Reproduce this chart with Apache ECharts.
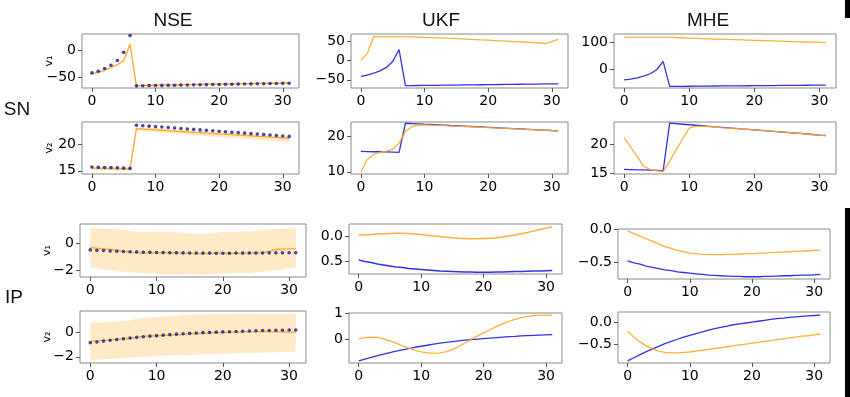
<!DOCTYPE html>
<html>
<head>
<meta charset="utf-8">
<script src="https://cdn.jsdelivr.net/npm/echarts@6/dist/echarts.min.js"></script>
<style>
  html, body { margin: 0; background: #fff; }
  #main { width: 850px; height: 397px; }
</style>
</head>
<body>
<div id="main"></div>
<script>
// time steps 0..31
var steps = [0,1,2,3,4,5,6,7,8,9,10,11,12,13,14,15,16,17,18,19,20,21,22,23,24,25,26,27,28,29,30,31];
var xTicks = [0, 10, 20, 30];

// ---- SN (spiking neuron), true states (blue) ----
var snV1True = [-41,-38,-33,-27,-18,-3,28,-65,-64.8,-64.6,-64.4,-64.2,-64,-63.8,-63.6,-63.4,-63.2,-63,-62.8,-62.6,-62.4,-62.2,-62,-61.8,-61.6,-61.4,-61.2,-61,-60.8,-60.6,-60.4,-60.2];
var snV2True = [15.7,15.65,15.6,15.6,15.55,15.5,15.45,23.55,23.46,23.37,23.28,23.2,23.11,23.02,22.93,22.85,22.76,22.67,22.58,22.5,22.41,22.32,22.23,22.15,22.06,21.97,21.88,21.8,21.71,21.62,21.53,21.45];

// NSE estimates + band
var nseSnV1 = [-43,-40,-36,-31,-26,-18,12,-65,-64.2,-64,-63.8,-63.6,-63.4,-63.2,-63,-62.8,-62.6,-62.4,-62.2,-62,-61.8,-61.6,-61.4,-61.2,-61,-60.8,-60.6,-60.4,-60.2,-60,-59.8,-59.6];
var nseSnV1Lo = [-45,-42,-38,-33,-28,-20,9,-67,-66,-65.8,-65.6,-65.4,-65.2,-65,-64.8,-64.6,-64.4,-64.2,-64,-63.8,-63.6,-63.4,-63.2,-63,-62.8,-62.6,-62.4,-62.2,-62,-61.8,-61.6,-61.4];
var nseSnV1Hi = [-41,-38,-34,-29,-24,-16,15,-63,-62.4,-62.2,-62,-61.8,-61.6,-61.4,-61.2,-61,-60.8,-60.6,-60.4,-60.2,-60,-59.8,-59.6,-59.4,-59.2,-59,-58.8,-58.6,-58.4,-58.2,-58,-57.8];
var nseSnV2 = [15.5,15.45,15.45,15.4,15.4,15.35,15.35,22.9,22.82,22.75,22.67,22.6,22.52,22.45,22.37,22.3,22.22,22.15,22.07,22,21.92,21.85,21.77,21.7,21.62,21.55,21.47,21.4,21.32,21.25,21.17,21.1];
var nseSnV2Lo = [15.1,15.1,15.05,15.05,15,15,15,22.5,22.4,22.3,22.2,22.1,22,21.95,21.85,21.75,21.65,21.6,21.5,21.4,21.3,21.25,21.15,21.05,20.95,20.9,20.8,20.75,20.65,20.6,20.5,20.45];
var nseSnV2Hi = [15.9,15.85,15.85,15.8,15.8,15.75,15.75,23.2,23.12,23.05,22.97,22.9,22.82,22.75,22.67,22.6,22.52,22.45,22.37,22.3,22.22,22.15,22.07,22,21.92,21.85,21.77,21.7,21.62,21.55,21.47,21.4];

// UKF estimates
var ukfSnV1 = [0,18,61,61,61,61,61,61,60.5,60,59.4,58.8,58.2,57.5,56.8,56,55.2,54.4,53.6,52.8,52,51.2,50.4,49.5,48.6,47.7,46.8,45.8,44.8,43.5,48.5,54];
var ukfSnV2 = [9.9,13.4,14.9,15.4,15.8,16.4,18,21.2,22.6,23,23.1,23.05,22.98,22.9,22.82,22.74,22.66,22.58,22.5,22.42,22.34,22.26,22.18,22.1,22.02,21.94,21.86,21.78,21.7,21.6,21.5,21.4];

// MHE estimates
var mheSnV1 = [117.5,118,118,118,118,118,118,118,117,116,115,114,113,112.2,111.4,110.6,109.8,109,108.2,107.4,106.6,105.8,105,104.2,103.4,102.6,101.8,101,100.2,99.4,98.6,97.8];
var mheSnV2 = [21.1,19.5,17.9,16.2,15.7,15.45,15.3,17.1,19,20.9,22.7,23,23,22.95,22.9,22.8,22.72,22.64,22.56,22.48,22.4,22.32,22.23,22.15,22.06,21.97,21.88,21.8,21.71,21.62,21.53,21.45];

// ---- IP, true states (blue) ----
var ipV1True = [-0.48,-0.51,-0.53,-0.56,-0.58,-0.6,-0.62,-0.63,-0.65,-0.66,-0.67,-0.68,-0.69,-0.7,-0.705,-0.71,-0.715,-0.72,-0.72,-0.725,-0.725,-0.725,-0.72,-0.72,-0.715,-0.71,-0.71,-0.705,-0.7,-0.7,-0.695,-0.69];
var ipV2True = [-0.87,-0.8,-0.73,-0.66,-0.6,-0.54,-0.48,-0.43,-0.38,-0.33,-0.29,-0.25,-0.21,-0.17,-0.14,-0.11,-0.08,-0.05,-0.03,-0.01,0.01,0.03,0.05,0.07,0.09,0.1,0.12,0.13,0.14,0.15,0.16,0.17];

var nseIpV1 = [-0.3,-0.35,-0.4,-0.45,-0.5,-0.6,-0.65,-0.7,-0.72,-0.72,-0.7,-0.7,-0.68,-0.7,-0.72,-0.74,-0.76,-0.76,-0.74,-0.72,-0.72,-0.73,-0.74,-0.74,-0.72,-0.7,-0.68,-0.6,-0.45,-0.42,-0.4,-0.36];
var nseIpV1Lo = [-1.75,-1.85,-1.95,-2.0,-2.05,-2.1,-2.15,-2.2,-2.2,-2.25,-2.25,-2.3,-2.3,-2.3,-2.3,-2.25,-2.3,-2.3,-2.3,-2.25,-2.25,-2.25,-2.2,-2.2,-2.2,-2.15,-2.1,-2.05,-2.0,-1.95,-1.85,-1.8];
var nseIpV1Hi = [1.2,1.15,1.1,1.1,1.05,1.0,0.95,0.9,0.85,0.85,0.9,0.9,0.85,0.8,0.8,0.75,0.72,0.72,0.75,0.8,0.85,0.85,0.85,0.9,0.9,0.95,1.0,1.05,1.1,1.1,1.12,1.15];
var nseIpV2 = [-0.75,-0.72,-0.68,-0.65,-0.6,-0.55,-0.5,-0.45,-0.33,-0.32,-0.3,-0.28,-0.25,-0.22,-0.19,-0.15,-0.12,-0.1,-0.08,-0.05,-0.03,-0.02,0,0.02,0.03,0.04,0.04,0.03,0.02,0.01,0,0];
var nseIpV2Lo = [-2.25,-2.22,-2.2,-2.17,-2.14,-2.1,-2.07,-2.03,-2,-1.97,-1.95,-1.92,-1.9,-1.88,-1.86,-1.84,-1.82,-1.8,-1.78,-1.76,-1.75,-1.73,-1.72,-1.71,-1.69,-1.68,-1.67,-1.65,-1.64,-1.62,-1.61,-1.6];
var nseIpV2Hi = [0.75,0.77,0.8,0.83,0.85,0.9,0.95,1.05,1.15,1.18,1.2,1.25,1.3,1.34,1.38,1.4,1.42,1.44,1.45,1.45,1.45,1.46,1.48,1.48,1.48,1.46,1.45,1.45,1.45,1.46,1.48,1.5];

var ukfIpV1 = [0.02,0.025,0.03,0.04,0.045,0.05,0.055,0.055,0.05,0.04,0.03,0.015,0,-0.01,-0.025,-0.035,-0.045,-0.05,-0.055,-0.055,-0.05,-0.045,-0.035,-0.02,0,0.02,0.045,0.07,0.1,0.13,0.155,0.185];
var ukfIpV2 = [0,0.05,0.07,0.06,0,-0.08,-0.17,-0.27,-0.36,-0.44,-0.51,-0.55,-0.57,-0.55,-0.5,-0.42,-0.3,-0.16,-0.02,0.12,0.24,0.36,0.48,0.59,0.69,0.77,0.84,0.89,0.92,0.94,0.94,0.93];

var mheIpV1 = [-0.02,-0.06,-0.1,-0.14,-0.18,-0.22,-0.26,-0.29,-0.32,-0.34,-0.36,-0.37,-0.38,-0.385,-0.385,-0.385,-0.38,-0.38,-0.375,-0.37,-0.37,-0.365,-0.36,-0.355,-0.35,-0.345,-0.34,-0.335,-0.33,-0.325,-0.32,-0.315];
var mheIpV2 = [-0.2,-0.33,-0.44,-0.53,-0.6,-0.65,-0.68,-0.69,-0.69,-0.68,-0.67,-0.65,-0.63,-0.61,-0.59,-0.57,-0.55,-0.53,-0.51,-0.49,-0.47,-0.45,-0.43,-0.41,-0.39,-0.37,-0.35,-0.33,-0.31,-0.3,-0.28,-0.26];

// y tick values per panel
var ticksSnV1Nse = [-50, 0], ticksSnV1Ukf = [-50, 0, 50], ticksSnV1Mhe = [0, 100];
var ticksSnV2Nse = [15, 20], ticksSnV2Ukf = [10, 20], ticksSnV2Mhe = [15, 20];
var ticksIpNse = [-2, 0], ticksIpV1Ukf = [-0.5, 0], ticksIpV1Mhe = [-0.5, 0];
var ticksIpV2Ukf = [0, 1], ticksIpV2Mhe = [-0.5, 0];

var BLUE = '#3232e6', ORANGE = '#ffa726', DOT = '#1c168f', BAND = 'rgba(255,200,110,0.38)';

// panel layout: [left, top, right, bottom] in px
var panels = [
  {box: [82, 34, 299, 88],  y: [-69, 31],      ticks: ticksSnV1Nse, dec: 0, name: 'v₁', est: nseSnV1, truth: snV1True, lo: nseSnV1Lo, hi: nseSnV1Hi},
  {box: [351, 34, 568, 88], y: [-71, 68],      ticks: ticksSnV1Ukf, dec: 0, est: ukfSnV1, truth: snV1True},
  {box: [614, 34, 836, 88], y: [-71, 130],     ticks: ticksSnV1Mhe, dec: 0, est: mheSnV1, truth: snV1True},
  {box: [82, 122, 299, 174], y: [14.4, 24.15], ticks: ticksSnV2Nse, dec: 0, name: 'v₂', est: nseSnV2, truth: snV2True, lo: nseSnV2Lo, hi: nseSnV2Hi},
  {box: [351, 122, 568, 174], y: [9.4, 23.9],  ticks: ticksSnV2Ukf, dec: 0, est: ukfSnV2, truth: snV2True},
  {box: [614, 122, 836, 174], y: [14.9, 23.75], ticks: ticksSnV2Mhe, dec: 0, est: mheSnV2, truth: snV2True},
  {box: [80, 224, 306, 277], y: [-2.5, 1.45],  ticks: ticksIpNse, dec: 0, name: 'v₁', est: nseIpV1, truth: ipV1True, lo: nseIpV1Lo, hi: nseIpV1Hi},
  {box: [349, 224, 562, 274], y: [-0.76, 0.24], ticks: ticksIpV1Ukf, dec: 1, noMinus: true, est: ukfIpV1, truth: ipV1True},
  {box: [618, 229, 830, 279], y: [-0.76, 0.01], ticks: ticksIpV1Mhe, dec: 1, est: mheIpV1, truth: ipV1True},
  {box: [80, 311, 306, 363], y: [-2.5, 1.7],   ticks: ticksIpNse, dec: 0, name: 'v₂', est: nseIpV2, truth: ipV2True, lo: nseIpV2Lo, hi: nseIpV2Hi},
  {box: [349, 313, 562, 363], y: [-0.95, 1.02], ticks: ticksIpV2Ukf, dec: 0, est: ukfIpV2, truth: ipV2True},
  {box: [618, 312, 830, 363], y: [-0.92, 0.24], ticks: ticksIpV2Mhe, dec: 1, est: mheIpV2, truth: ipV2True}
];

function pairs(ys) {
  return steps.map(function (x, k) { return [x, ys[k]]; });
}

var labelFont = {color: '#000', fontSize: 14, fontFamily: 'DejaVu Sans'};
var grids = [], xAxes = [], yAxes = [], series = [];

panels.forEach(function (p, i) {
  grids.push({
    left: p.box[0], top: p.box[1],
    width: p.box[2] - p.box[0], height: p.box[3] - p.box[1],
    show: true, borderColor: '#8a8a8a', borderWidth: 1, backgroundColor: 'transparent'
  });
  xAxes.push({
    type: 'value', gridIndex: i, min: -1.55, max: 32.55, position: 'bottom',
    axisLine: {show: false, onZero: false}, splitLine: {show: false},
    axisTick: {length: 4, lineStyle: {color: '#555'}, customValues: xTicks},
    axisLabel: Object.assign({margin: 6, customValues: xTicks}, labelFont)
  });
  yAxes.push({
    type: 'value', gridIndex: i, min: p.y[0], max: p.y[1], position: 'left',
    name: p.name || '', nameLocation: 'middle', nameGap: 27, nameRotate: 90,
    nameMoveOverlap: false,
    nameTextStyle: {fontSize: 11, fontFamily: 'DejaVu Sans', color: '#000'},
    axisLine: {show: false, onZero: false}, splitLine: {show: false},
    axisTick: {length: 4, lineStyle: {color: '#555'}, customValues: p.ticks},
    axisLabel: Object.assign({
      margin: 6, customValues: p.ticks,
      formatter: (function (dec, noMinus) {
        return function (v) {
          var s = Number(v).toFixed(dec);
          if (s === '-0' || s === '-0.0') s = s.slice(1);
          return noMinus ? s.replace('-', '') : s.replace('-', '\u2212');
        };
      })(p.dec, p.noMinus)
    }, labelFont)
  });
  if (p.lo) {
    // NSE: uncertainty band, estimate line, true states as dots
    series.push({
      type: 'custom', xAxisIndex: i, yAxisIndex: i, silent: true, z: 1,
      data: [[0, p.lo[0]]],
      renderItem: (function (lo, hi) {
        return function (params, api) {
          var pts = [];
          for (var k = 0; k < steps.length; k++) pts.push(api.coord([steps[k], hi[k]]));
          for (var k = steps.length - 1; k >= 0; k--) pts.push(api.coord([steps[k], lo[k]]));
          return {type: 'polygon', shape: {points: pts}, style: {fill: BAND}};
        };
      })(p.lo, p.hi)
    });
    series.push({
      type: 'line', xAxisIndex: i, yAxisIndex: i, data: pairs(p.est), z: 2,
      showSymbol: false, lineStyle: {color: ORANGE, width: 1.3}
    });
    series.push({
      type: 'scatter', xAxisIndex: i, yAxisIndex: i, data: pairs(p.truth), z: 3,
      symbolSize: 3.6, itemStyle: {color: DOT}
    });
  } else {
    series.push({
      type: 'line', xAxisIndex: i, yAxisIndex: i, data: pairs(p.truth), z: 2,
      showSymbol: false, lineStyle: {color: BLUE, width: 1.3}
    });
    series.push({
      type: 'line', xAxisIndex: i, yAxisIndex: i, data: pairs(p.est), z: 3,
      showSymbol: false, lineStyle: {color: ORANGE, width: 1.3, opacity: 0.9}
    });
  }
});

var headFont = '19px "Liberation Sans", sans-serif';
function label(text, x, y) {
  return {type: 'text', x: x, y: y, style: {text: text, font: headFont, fill: '#111', align: 'center', verticalAlign: 'middle'}};
}

var chart = echarts.init(document.getElementById('main'));
chart.setOption({
  animation: false,
  backgroundColor: '#fff',
  grid: grids,
  xAxis: xAxes,
  yAxis: yAxes,
  series: series,
  graphic: [
    label('NSE', 173, 21), label('UKF', 441, 21), label('MHE', 708, 21),
    label('SN', 17, 110), label('IP', 14, 298),
    {type: 'rect', shape: {x: 845, y: 0, width: 5, height: 18}, style: {fill: '#000'}},
    {type: 'rect', shape: {x: 845, y: 208, width: 5, height: 189}, style: {fill: '#000'}}
  ]
});
</script>
</body>
</html>
